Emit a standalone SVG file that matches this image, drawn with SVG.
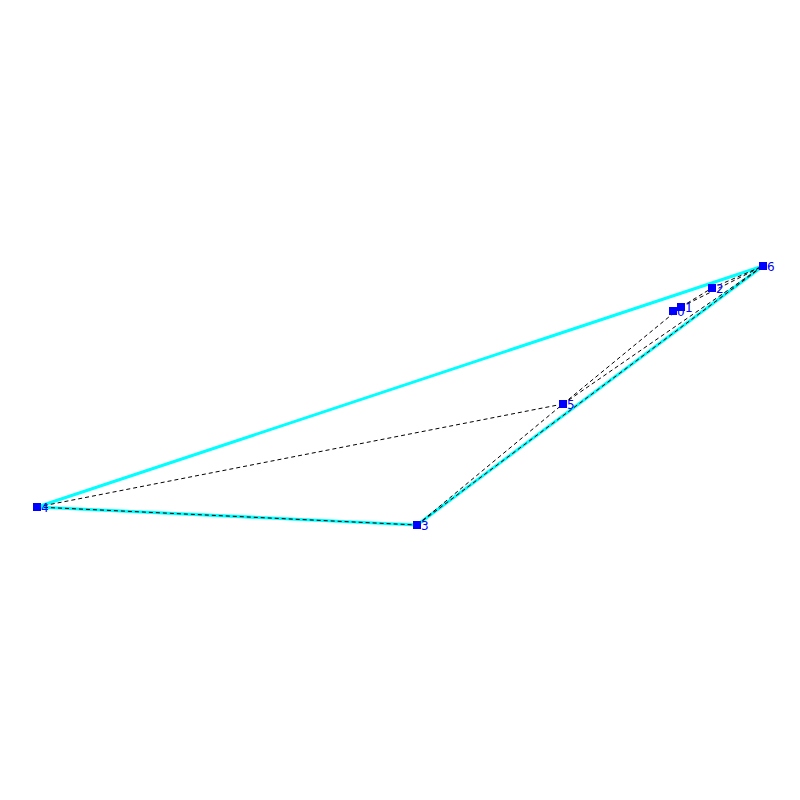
<svg xmlns="http://www.w3.org/2000/svg" width="800" height="800" viewBox="0 0 800 800">
<style>
.hull{stroke:#00ffff;stroke-width:3;fill:none}
.e{stroke:#000;stroke-width:1;stroke-dasharray:4,3;fill:none}
.n rect{fill:#0000ff}
.n text{fill:#0000ff;font-family:"DejaVu Sans",sans-serif;font-size:12px}
</style>
<rect width="800" height="800" fill="#fff"/>
<g id="connectors">
<line class="hull" x1="37" y1="507" x2="763" y2="266"/>
<line class="hull" x1="763" y1="266" x2="417" y2="525"/>
<line class="hull" x1="417" y1="525" x2="37" y2="507"/>
<line class="e" x1="37" y1="507" x2="563" y2="404"/>
<line class="e" x1="37" y1="507" x2="417" y2="525"/>
<line class="e" x1="417" y1="525" x2="563" y2="404"/>
<line class="e" x1="417" y1="525" x2="763" y2="266"/>
<line class="e" x1="563" y1="404" x2="763" y2="266"/>
<line class="e" x1="563" y1="404" x2="681" y2="307"/>
<line class="e" x1="681" y1="307" x2="712" y2="288"/>
<line class="e" x1="712" y1="288" x2="763" y2="266"/>
<line class="e" x1="681" y1="307" x2="763" y2="266"/>
</g>
<g id="n0" class="n"><rect x="669" y="307" width="8" height="8"/><text x="677" y="316">0</text></g>
<g id="n1" class="n"><rect x="677" y="303" width="8" height="8"/><text x="685" y="312">1</text></g>
<g id="n2" class="n"><rect x="708" y="284" width="8" height="8"/><text x="716" y="293">2</text></g>
<g id="n3" class="n"><rect x="413" y="521" width="8" height="8"/><text x="421" y="530">3</text></g>
<g id="n4" class="n"><rect x="33" y="503" width="8" height="8"/><text x="41" y="512">4</text></g>
<g id="n5" class="n"><rect x="559" y="400" width="8" height="8"/><text x="567" y="409">5</text></g>
<g id="n6" class="n"><rect x="759" y="262" width="8" height="8"/><text x="767" y="271">6</text></g>
</svg>
